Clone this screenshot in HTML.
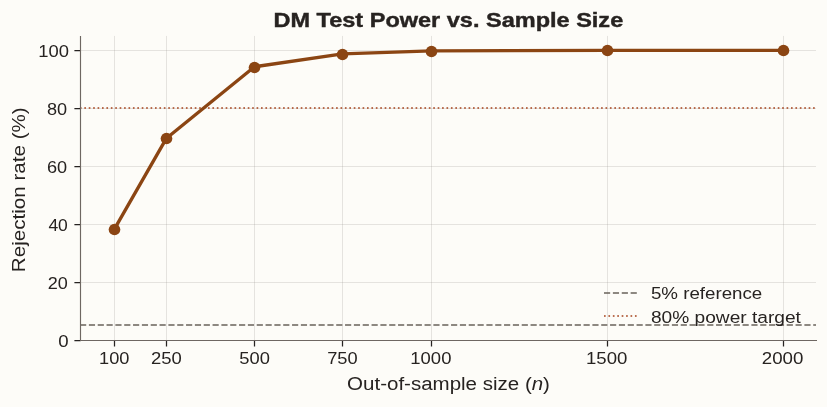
<!DOCTYPE html>
<html>
<head>
<meta charset="utf-8">
<title>DM Test Power vs. Sample Size</title>
<style>
html,body{margin:0;padding:0;background:#fdfcf8;}
body{width:827px;height:407px;overflow:hidden;font-family:"Liberation Sans",sans-serif;}
svg{display:block;will-change:transform;}
text{font-family:"Liberation Sans",sans-serif;fill:#272321;}
</style>
</head>
<body>
<svg width="827" height="407" viewBox="0 0 827 407">
<rect x="0" y="0" width="827" height="407" fill="#fdfcf8"/>
<g stroke="#8c8782" stroke-opacity="0.21" stroke-width="1" fill="none">
<path d="M114.5 35.9V340.5M166.5 35.9V340.5M254.5 35.9V340.5M342.5 35.9V340.5M431.5 35.9V340.5M607.5 35.9V340.5M783.5 35.9V340.5"/>
<path d="M80.5 50.5H816M80.5 108.5H816M80.5 166.5H816M80.5 224.5H816M80.5 282.5H816"/>
</g>
<path d="M80.05 325H816" stroke="#68615a" stroke-width="1.67" stroke-dasharray="6.1667 2.6667" fill="none"/>
<path d="M79.9 108.0H816" stroke="#a4401a" stroke-width="1.67" stroke-dasharray="1.6667 2.75" fill="none"/>
<polyline points="114.40,229.15 166.50,138.20 254.50,66.75 342.50,53.80 431.50,50.92 607.50,50.33 783.50,50.33" fill="none" stroke="#8b4513" stroke-width="3.33" stroke-linejoin="round"/>
<g fill="#8b4513"><circle cx="114.50" cy="229.50" r="5.83"/><circle cx="166.50" cy="138.50" r="5.83"/><circle cx="254.50" cy="67.50" r="5.83"/><circle cx="342.50" cy="54.50" r="5.83"/><circle cx="431.50" cy="51.50" r="5.83"/><circle cx="607.50" cy="50.50" r="5.83"/><circle cx="783.50" cy="50.50" r="5.83"/></g>
<path d="M80.5 35.9V341.2M80 340.5H817" stroke="#6e6762" stroke-width="1.15" fill="none"/>
<g stroke="#272321" stroke-width="1.25" fill="none">
<path d="M114.5 341V346.5M166.5 341V346.5M254.5 341V346.5M342.5 341V346.5M431.5 341V346.5M607.5 341V346.5M783.5 341V346.5"/>
<path d="M74.4 50.5H80M74.4 108.5H80M74.4 166.5H80M74.4 224.5H80M74.4 282.5H80M74.4 340.5H80"/>
</g>
<g font-size="16.9">
<text x="99.10" y="364" textLength="30.40" lengthAdjust="spacingAndGlyphs">100</text>
<text x="150.95" y="364" textLength="30.79" lengthAdjust="spacingAndGlyphs">250</text>
<text x="239.25" y="364" textLength="30.58" lengthAdjust="spacingAndGlyphs">500</text>
<text x="327.15" y="364" textLength="30.45" lengthAdjust="spacingAndGlyphs">750</text>
<text x="410.30" y="364" textLength="41.11" lengthAdjust="spacingAndGlyphs">1000</text>
<text x="586.00" y="364" textLength="41.41" lengthAdjust="spacingAndGlyphs">1500</text>
<text x="761.80" y="364" textLength="41.57" lengthAdjust="spacingAndGlyphs">2000</text>
</g>
<g font-size="16.9">
<text x="38.39" y="56.9" textLength="30.71" lengthAdjust="spacingAndGlyphs">100</text>
<text x="46.95" y="114.9" textLength="20.17" lengthAdjust="spacingAndGlyphs">80</text>
<text x="46.95" y="172.9" textLength="20.20" lengthAdjust="spacingAndGlyphs">60</text>
<text x="48.40" y="230.9" textLength="19.45" lengthAdjust="spacingAndGlyphs">40</text>
<text x="47.80" y="288.9" textLength="20.09" lengthAdjust="spacingAndGlyphs">20</text>
<text x="58.25" y="346.9" textLength="10.36" lengthAdjust="spacingAndGlyphs">0</text>
</g>
<text x="347.10" y="389.8" font-size="17.6" textLength="202.87" lengthAdjust="spacingAndGlyphs">Out-of-sample size (<tspan font-style="italic">n</tspan>)</text>
<text transform="translate(25.1,272.15) rotate(-90)" font-size="17.6" textLength="164.85" lengthAdjust="spacingAndGlyphs">Rejection rate (%)</text>
<text x="273.50" y="27.2" font-size="19.9" font-weight="bold" stroke="#272321" stroke-width="0.4" textLength="349.71" lengthAdjust="spacingAndGlyphs">DM Test Power vs. Sample Size</text>
<path d="M604 293H637" stroke="#68615a" stroke-width="1.67" stroke-dasharray="6.17 2.71" fill="none"/>
<path d="M604 316H637" stroke="#a4401a" stroke-width="1.67" stroke-dasharray="1.67 2.75" fill="none"/>
<text x="650.95" y="299.3" font-size="16.9" textLength="111.32" lengthAdjust="spacingAndGlyphs">5% reference</text>
<text x="650.95" y="322.7" font-size="16.9" textLength="149.96" lengthAdjust="spacingAndGlyphs">80% power target</text>
</svg>
</body>
</html>
